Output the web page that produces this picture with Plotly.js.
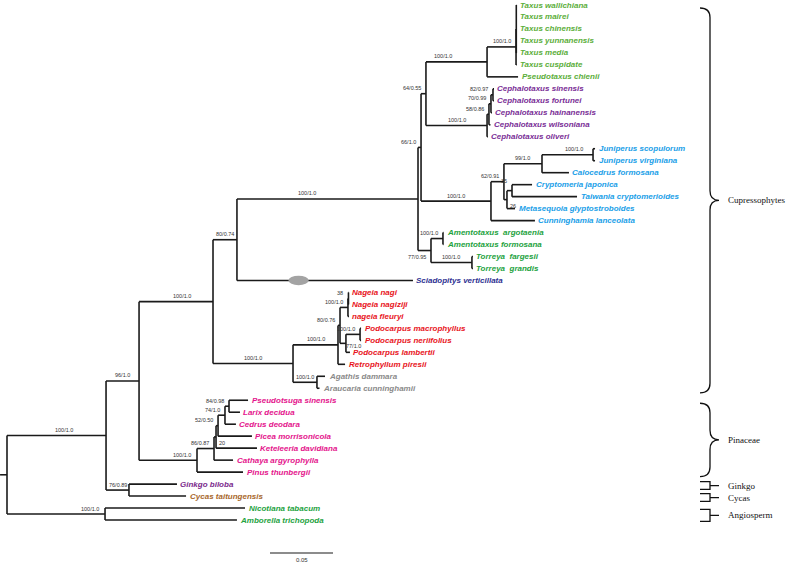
<!DOCTYPE html>
<html><head><meta charset="utf-8">
<script src="https://cdn.plot.ly/plotly-3.0.1.min.js"></script>
<style>html,body{margin:0;padding:0;background:#fff}#chart{width:787px;height:565px}</style>
</head><body><div id="chart"></div>
<script>
// ---------- DATA ----------
const tipNames = [
  'Taxus wallichiana','Taxus mairei','Taxus chinensis','Taxus yunnanensis','Taxus media','Taxus cuspidate',
  'Pseudotaxus chienii',
  'Cephalotaxus sinensis','Cephalotaxus fortunei','Cephalotaxus hainanensis','Cephalotaxus wilsoniana','Cephalotaxus oliveri',
  'Juniperus scopulorum','Juniperus virginiana','Calocedrus formosana','Cryptomeria japonica','Taiwania cryptomerioides',
  'Metasequoia glyptostroboides','Cunninghamia lanceolata',
  'Amentotaxus\u00a0 argotaenia','Amentotaxus formosana','Torreya\u00a0 fargesii','Torreya\u00a0 grandis',
  'Sciadopitys verticillata',
  'Nageia nagi','Nageia nagiziji','nageia fleuryi','Podocarpus macrophyllus','Podocarpus neriifolius','Podocarpus lambertii',
  'Retrophyllum piresii','Agathis dammara','Araucaria cunninghamii',
  'Pseudotsuga sinensis','Larix decidua','Cedrus deodara','Picea morrisonicola','Keteleeria davidiana','Cathaya argyrophylla','Pinus thunbergii',
  'Ginkgo biloba','Cycas taitungensis','Nicotiana tabacum','Amborella trichopoda'
];
const tipGroups = [
  'taxus','taxus','taxus','taxus','taxus','taxus','taxus',
  'ceph','ceph','ceph','ceph','ceph',
  'cupr','cupr','cupr','cupr','cupr','cupr','cupr',
  'torr','torr','torr','torr',
  'sciad',
  'podo','podo','podo','podo','podo','podo','podo','arau','arau',
  'pina','pina','pina','pina','pina','pina','pina',
  'ginkgo','cycas','angio','angio'
];
const tipParents = [
  'TAXUS2','TAXUS2','TAXUS2','TAXUS2','TAXUS2','TAXUS','TAX',
  'C82','C82','C70','C58','CEPH',
  'JUN','JUN','N99','N35','N35','N26','CUPR',
  'AME','AME','TOR','TOR',
  'N80',
  'NAG38','NAG38','NAG','PD100','PD100','PD77','POD','ARA','ARA',
  'P84','P84','P74','P52','P20','P86','PIN',
  'GC','GC','ANG','ANG'
];
// cumulative distance from the root (substitutions/site)
const tipDepths = [
  0.4044,0.4044,0.4044,0.4044,0.4044,0.4044,0.4056,
  0.3865,0.3865,0.3849,0.3837,0.3817,
  0.4667,0.4667,0.4460,0.4167,0.4524,0.4032,0.4190,
  0.3464,0.3464,0.3698,0.3698,
  0.3222,
  0.2714,0.2714,0.2714,0.2810,0.2810,0.2722,0.2683,0.2524,0.2480,
  0.1913,0.1849,0.1817,0.1944,0.1984,0.1794,0.1873,
  0.1349,0.1421,0.1889,0.1825
];
const nodeIds = ['R','ANG','SP','GC','CON','PIN','P86','P20','P52','P74','P84','CUP','N80','PA','ARA','POD','Q80','NAG','NAG38','PD77','PD100',
  'X418','N66','N64','TAX','TAXUS','TAXUS2','CEPH','C58','C70','C82','CUPR','N62','N99','JUN','N26','N35','AT77','AME','TOR'];
const nodeParents = ['','R','R','SP','SP','CON','PIN','P86','P20','P52','P74','CON','CUP','CUP','PA','PA','POD','Q80','NAG','Q80','PD77',
  'N80','X418','N66','N64','TAX','TAXUS','N64','CEPH','C58','C70','N66','CUPR','N62','N99','N62','N26','X418','AT77','AT77'];
const nodeDepths = [0,0.0778,0.0786,0.0968,0.1048,0.1508,0.1643,0.1659,0.1675,0.1730,0.1762,0.1635,0.1825,0.2270,0.2460,0.2627,0.2643,0.2706,0.2710,0.2690,0.2802,
  0.3262,0.3286,0.3325,0.3810,0.4040,0.4042,0.3810,0.3825,0.3841,0.3857,0.3841,0.3944,0.4246,0.4651,0.3968,0.4008,0.3365,0.3460,0.3690];
const nodeSupports = ['','100/1.0','100/1.0','76/0.89','96/1.0','100/1.0','86/0.87','20','52/0.50','74/1.0','84/0.98','100/1.0','80/0.74','100/1.0','100/1.0','100/1.0','80/0.76','100/1.0','38','77/1.0','100/1.0',
  '100/1.0','66/1.0','64/0.55','100/1.0','100/1.0','','100/1.0','58/0.86','70/0.99','82/0.97','100/1.0','62/0.91','99/1.0','100/1.0','26','35','77/0.95','100/1.0','100/1.0'];
const cladeNames = ['Cupressophytes','Pinaceae','Ginkgo','Cycas','Angiosperm'];
const cladeFirstTip = [0,33,40,41,42];
const cladeLastTip = [32,39,40,41,43];
const scaleBarLength = 0.05;
const scaleBarText = '0.05';

// ---------- STYLE / LAYOUT ----------
const groupColors = {taxus:'#5bae3a', ceph:'#7a2e96', cupr:'#1aa0e8', torr:'#23a23e', sciad:'#2e3192',
  podo:'#e8141c', arau:'#8a8a8a', pina:'#e4148c', ginkgo:'#7b2a8c', cycas:'#a8682c', angio:'#23a23e'};
const PXU = 1260, X0 = 7, YSTEP = 11.977, Y0 = 5;
const X = px => (px - X0) / PXU;      // pixel -> data (decorations only)
const Y = py => (py - Y0) / YSTEP;

const depthOf = {}, yOf = {}, kids = {};
nodeIds.forEach((id,i)=>{ depthOf[id]=nodeDepths[i]; kids[id]=[]; });
nodeIds.forEach((id,i)=>{ if(nodeParents[i]) kids[nodeParents[i]].push(id); });
tipNames.forEach((n,i)=>{ const k='t'+i; depthOf[k]=tipDepths[i]; yOf[k]=i; kids[tipParents[i]].push(k); });
function calcY(id){
  if (yOf[id]!==undefined) return yOf[id];
  const ys = kids[id].map(calcY);
  yOf[id] = (Math.min(...ys)+Math.max(...ys))/2;
  return yOf[id];
}
calcY('R');
const parentOf = {};
nodeIds.forEach((id,i)=>{ parentOf[id]=nodeParents[i]; });
tipNames.forEach((n,i)=>{ parentOf['t'+i]=tipParents[i]; });

const lx=[], ly=[];
function seg(x1,y1,x2,y2){ lx.push(x1,x2,null); ly.push(y1,y2,null); }
Object.keys(parentOf).forEach(k=>{
  const p = parentOf[k]; if(!p) return;
  seg(depthOf[p], yOf[k], depthOf[k], yOf[k]);
});
nodeIds.forEach(id=>{
  const ys = kids[id].map(k=>yOf[k]);
  seg(depthOf[id], Math.min(...ys), depthOf[id], Math.max(...ys));
});
seg(-X0/PXU*0.99, yOf['R'], 0, yOf['R']);

const ann = [];
tipNames.forEach((n,i)=>{
  ann.push({x:tipDepths[i], y:i, text:n, xanchor:'left', yanchor:'middle', xshift:1.5, showarrow:false,
    font:{family:'Liberation Sans, Arial, sans-serif', size:8, color:groupColors[tipGroups[i]], weight:'bold', style:'italic'}});
});
const below = new Set(['AT77']);
const rightBelow = new Set(['N26','P20']);
const labelDx = {ANG:34, SP:7, X418:-20, TAX:-14, PIN:14, CUP:6, JUN:6};
nodeIds.forEach((id,i)=>{
  const s = nodeSupports[i]; if(!s) return;
  const p = nodeParents[i];
  const bl = (depthOf[id]-depthOf[p])*PXU;
  const a = {text:s, y:yOf[id], showarrow:false, yanchor:'middle',
    font:{family:'Liberation Sans, Arial, sans-serif', size:5.5, color:'#333'}};
  if (rightBelow.has(id)) { a.x=depthOf[id]; a.xanchor='left'; a.xshift=1; a.yshift=-6; }
  else if (id==='PD77') { a.x=depthOf[id]; a.xanchor='left'; a.xshift=-2; a.yshift=-3; }
  else if (bl >= 20) { a.x=(depthOf[id]+depthOf[p])/2; a.xanchor='center'; a.yshift=5.5; a.xshift = labelDx[id]||0; }
  else { a.x=depthOf[id]; a.xanchor='right'; a.xshift=-3; a.yshift = below.has(id)? -6 : 5.5; }
  if (id==='N35') a.yshift = 10;
  ann.push(a);
});

// scale bar
const sbX = X(270), sbY = Y(553);
const shapes = [
  {type:'line', x0:sbX, x1:sbX+scaleBarLength, y0:sbY, y1:sbY, line:{color:'#666', width:1.4}}
];
ann.push({x:sbX+scaleBarLength/2, y:Y(560), text:scaleBarText, showarrow:false, xanchor:'center', yanchor:'middle',
  font:{family:'Liberation Sans, Arial, sans-serif', size:6, color:'#333'}});

// gray ellipse on Sciadopitys branch
const sci = tipNames.indexOf('Sciadopitys verticillata');
const ex = depthOf['N80'] + 0.35*(tipDepths[sci]-depthOf['N80']);
shapes.push({type:'circle', x0:ex-X(10)+X(0), x1:ex+X(10)-X(0), y0:sci-0.4, y1:sci+0.4, fillcolor:'#a3a3a3', line:{width:0}});

// clade braces
const xL = X(700), xM = X(710), xT = X(719);
cladeNames.forEach((c,i)=>{
  let yt, yb;
  if (cladeLastTip[i]-cladeFirstTip[i] > 3) { yt = cladeFirstTip[i] + 0.25; yb = cladeLastTip[i] + 0.38; }
  else if (cladeLastTip[i] > cladeFirstTip[i]) { yt = cladeFirstTip[i] + 0.12; yb = cladeLastTip[i] + 0.12; }
  else { yt = cladeFirstTip[i] - 0.2; yb = cladeLastTip[i] + 0.45; }
  const yc = (yt+yb)/2;
  let path;
  if (yb - yt > 3) {
    const r = 0.8;
    path = `M ${xL},${yt} Q ${xM},${yt} ${xM},${yt+r} L ${xM},${yc-r} Q ${xM},${yc} ${xT},${yc} Q ${xM},${yc} ${xM},${yc+r} L ${xM},${yb-r} Q ${xM},${yb} ${xL},${yb}`;
  } else {
    path = `M ${xL},${yt} L ${xM},${yt} L ${xM},${yb} L ${xL},${yb} M ${xM},${yc} L ${xT},${yc}`;
  }
  shapes.push({type:'path', path, line:{color:'#111', width:1.3}});
  ann.push({x:X(726), y:yc, text:c, showarrow:false, xanchor:'left', yanchor:'middle',
    font:{family:'Liberation Serif, Times New Roman, serif', size:9, color:'#111'}});
});

const traces = [{x:lx, y:ly, mode:'lines', type:'scatter', line:{color:'#1a1a1a', width:1.6}, hoverinfo:'skip', showlegend:false}];
const layout = {
  width:787, height:565, margin:{l:0,r:0,t:0,b:0}, paper_bgcolor:'#fff', plot_bgcolor:'#fff', showlegend:false,
  xaxis:{range:[X(0), X(787)], visible:false, fixedrange:true},
  yaxis:{range:[Y(565), Y(0)], visible:false, fixedrange:true},
  annotations: ann, shapes: shapes
};
Plotly.newPlot('chart', traces, layout, {staticPlot:true, displayModeBar:false});
</script></body></html>
